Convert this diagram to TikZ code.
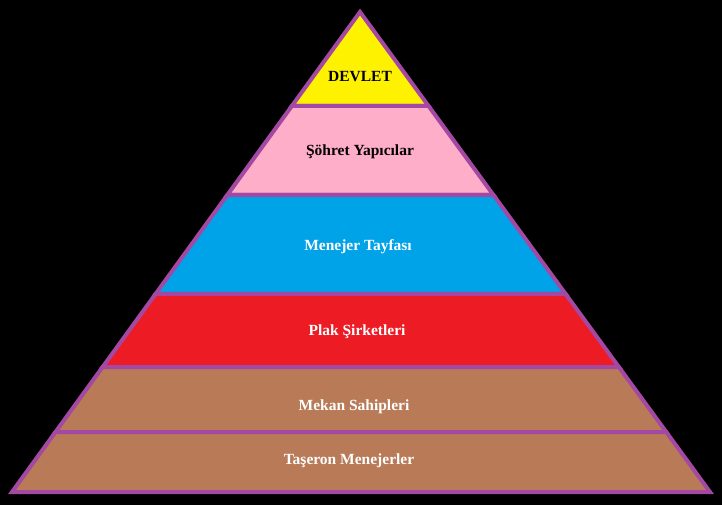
\documentclass[tikz,border=0pt]{standalone}
\usepackage{fontspec}
\setmainfont{Liberation Serif}
\usepackage{tikz}
\usetikzlibrary{calc}
\definecolor{pyrpurple}{HTML}{A349A4}
\definecolor{pyryellow}{HTML}{FFF200}
\definecolor{pyrpink}{HTML}{FFAEC9}
\definecolor{pyrblue}{HTML}{00A2E8}
\definecolor{pyrred}{HTML}{ED1C24}
\definecolor{pyrbrown}{HTML}{B97A57}
\tikzset{
  layer/.style={draw=pyrpurple, line width=4pt},
  layertext/.style={font=\bfseries\fontsize{15.5}{18}\selectfont,
                    inner sep=0pt, anchor=base}
}

\begin{document}
\begin{tikzpicture}[x=1pt, y=-1pt]
  % ── Background ───────────────────────────────────────────────────
  \fill[black] (0,0) rectangle (722,505);
  \useasboundingbox (0,0) rectangle (722,505);

  % ── Pyramid corners ──────────────────────────────────────────────
  \coordinate (Top) at (360, 12);
  \coordinate (BL)  at (12, 492);
  \coordinate (BR)  at (710, 492);

  % layers from top to bottom, as fractions of the height
  \foreach \ta/\tb/\col in {0/0.1958/pyryellow, 0.1958/0.381/pyrpink,
                            0.381/0.5875/pyrblue, 0.5875/0.7396/pyrred,
                            0.7396/0.875/pyrbrown, 0.875/1/pyrbrown}
    { \filldraw[layer, fill=\col]
        ($(Top)!\ta!(BL)$) -- ($(Top)!\tb!(BL)$) --
        ($(Top)!\tb!(BR)$) -- ($(Top)!\ta!(BR)$) -- cycle; }

  % ── Labels (placed on their baselines) ───────────────────────────
  \node[layertext, text=black] (devlet)  at (360, 82)  {DEVLET};
  \node[layertext, text=black] (sohret)  at (360, 156) {Şöhret Yapıcılar};
  \node[layertext, text=white] (menejer) at (358, 250) {Menejer Tayfası};
  \node[layertext, text=white] (plak)    at (357, 335) {Plak Şirketleri};
  \node[layertext, text=white] (mekan)   at (354, 410) {Mekan Sahipleri};
  \node[layertext, text=white] (taseron) at (349, 464) {Taşeron Menejerler};
\end{tikzpicture}
\end{document}
